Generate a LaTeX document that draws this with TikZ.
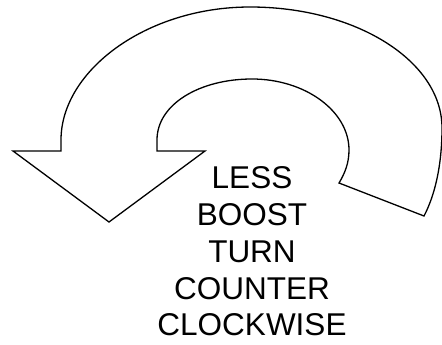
\documentclass[tikz,border=0pt]{standalone}
\usepackage{fontspec}
\setmainfont{Liberation Sans}
\usetikzlibrary{positioning}
\tikzset{turnarrow/.style={draw=black, line width=1.3pt, line join=miter, fill=white},
  turnlabel/.style={align=center, inner sep=0pt, font=\fontsize{31.5}{36.8}\selectfont},
  turn/.style={x=1pt, y=-1pt}}

\begin{document}
\begin{tikzpicture}[turn]
    \useasboundingbox (0,0) rectangle (442,345);
    % curved arrow, head at the left
    \draw[turnarrow] (424,216) .. controls (435,195) and (442,165) .. (442,128)
      .. controls (442,61) and (356,7) .. (250,7)
      .. controls (146,7) and (61,71) .. (61,140) -- (61,151)
      -- (13,151) -- (109,222) -- (205,151) -- (157,151) -- (157,140)
      .. controls (157,104) and (200,79) .. (252,79)
      .. controls (305,79) and (349,111) .. (349,150)
      .. controls (349,163) and (345,173) .. (339,183) -- cycle;
    \node[turnlabel] (lbl) at (252,251.5) {LESS\\BOOST\\TURN\\COUNTER\\CLOCKWISE};
  \end{tikzpicture}
\end{document}
